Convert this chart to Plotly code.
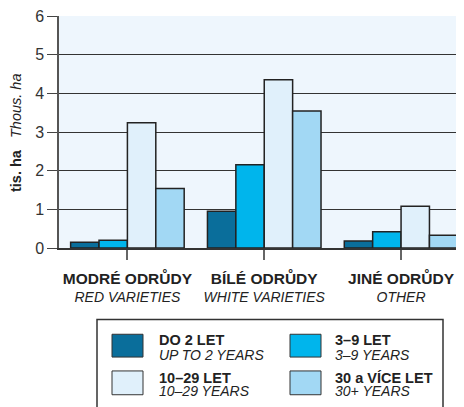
import plotly.graph_objects as go

categories_cz = ["MODRÉ ODRŮDY", "BÍLÉ ODRŮDY", "JINÉ ODRŮDY"]
categories_en = ["RED VARIETIES", "WHITE VARIETIES", "OTHER"]

series_cz = ["DO 2 LET", "3–9 LET", "10–29 LET", "30 a VÍCE LET"]
series_en = ["UP TO 2 YEARS", "3–9 YEARS", "10–29 YEARS", "30+ YEARS"]
colors = ["#0a6e9b", "#00b5ec", "#e0f0fb", "#a2d8f4"]

up_to_2 = [0.15, 0.95, 0.18]
y3_9 = [0.20, 2.15, 0.42]
y10_29 = [3.24, 4.35, 1.08]
y30_plus = [1.54, 3.54, 0.33]
values = [up_to_2, y3_9, y10_29, y30_plus]

FONT = "Liberation Sans, Arial, sans-serif"
OFF = 8  # page body margin
W, H = 464 - OFF, 407 - OFF
ML, MT = 59 - OFF, 14 - OFF
MB = H - (248 - OFF)
PW, PH = W - ML, H - MT - MB


# page pixel -> paper coords
def px(x):
    return (x - OFF - ML) / PW


def py(y):
    return (H - MB - (y - OFF)) / PH


fig = go.Figure()
for name, vals, col in zip(series_cz, values, colors):
    fig.add_trace(go.Bar(
        x=[0, 1, 2], y=vals, name=name,
        marker=dict(color=col, line=dict(color="#222", width=1.5)),
        showlegend=False, hoverinfo="y"))

ticktext = [f"<span style='font-size:15.5px'><b>{c}</b></span><br><i>{e}</i>"
            for c, e in zip(categories_cz, categories_en)]

shapes = [dict(type="rect", xref="paper", yref="paper",
               x0=px(97), x1=px(443), y0=py(420), y1=py(320),
               line=dict(color="#333", width=1.5), fillcolor="white", layer="above")]
annotations = [dict(text="<b>tis. ha</b>   <i>Thous. ha</i>", textangle=-90,
                    xref="paper", yref="paper", x=px(16), y=py(132),
                    xanchor="center", yanchor="middle", showarrow=False,
                    font=dict(family=FONT, size=14.5, color="#222"))]

# legend built by hand: 2 x 2 grid, two text lines per entry
sw_x = [112, 290]
tx_x = [157, 333]
sw_y = [(335, 358), (372, 396)]
line_y = [(341, 355.5), (378.7, 392.2)]
for i, (cz, en, col) in enumerate(zip(series_cz, series_en, colors)):
    c, r = i % 2, i // 2
    shapes.append(dict(type="rect", xref="paper", yref="paper",
                       x0=px(sw_x[c]), x1=px(sw_x[c] + 31),
                       y0=py(sw_y[r][1]), y1=py(sw_y[r][0]),
                       fillcolor=col, line=dict(color="#333", width=1), layer="above"))
    for txt, yy, sz in [(f"<b>{cz}</b>", line_y[r][0], 14.5), (f"<i>{en}</i>", line_y[r][1], 14)]:
        annotations.append(dict(text=txt, xref="paper", yref="paper",
                                x=px(tx_x[c]), y=py(yy), xanchor="left", yanchor="middle",
                                showarrow=False, font=dict(family=FONT, size=sz, color="#222")))

fig.update_layout(
    width=W, height=H,
    margin=dict(l=ML, r=0, t=MT, b=MB),
    barmode="group", bargap=0.17, bargroupgap=0,
    paper_bgcolor="white", plot_bgcolor="#eef6fd",
    font=dict(family=FONT, size=14, color="#222"),
    shapes=shapes, annotations=annotations,
    xaxis=dict(range=[-0.5, 2.46], tickvals=[0, 1, 2], ticktext=ticktext,
               tickson="boundaries", ticks="outside", ticklen=10, tickcolor="#666",
               tickwidth=1.5, showline=True, linecolor="#333", linewidth=1.5,
               showgrid=False, zeroline=False, fixedrange=True, ticklabelstandoff=7,
               tickfont=dict(family=FONT, size=14, color="#222")),
    yaxis=dict(range=[0, 6], dtick=1, ticks="outside", ticklen=10, tickcolor="#444",
               showline=True, linecolor="#555", linewidth=1.5, ticklabeloverflow="allow",
               gridcolor="#333", gridwidth=1, zeroline=False, fixedrange=True,
               tickfont=dict(family=FONT, size=16, color="#333")),
)

fig.write_html("out.html")
